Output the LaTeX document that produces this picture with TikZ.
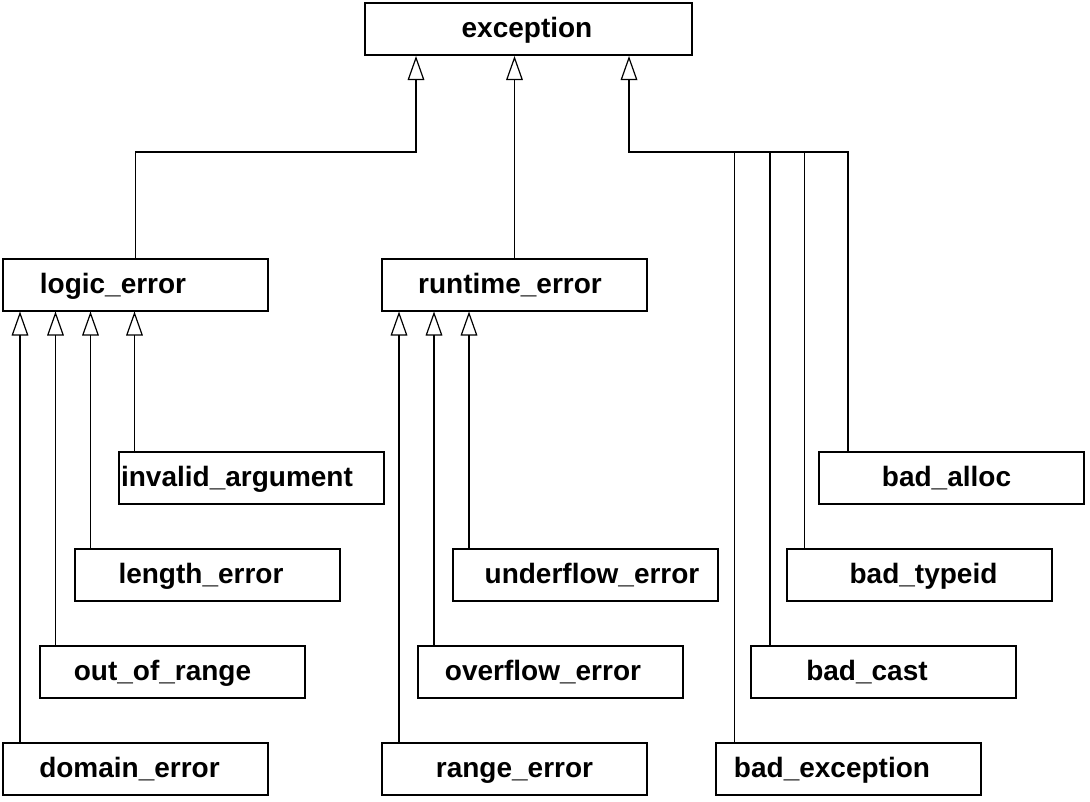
\documentclass[tikz,border=0pt]{standalone}
\usepackage{fontspec}
\setmainfont{Liberation Sans}
\usetikzlibrary{arrows.meta,calc}

\tikzset{
  cls/.style={draw, line width=1.5pt, minimum width=198.75pt, minimum height=39pt, inner sep=0pt},
  lbl/.style={inner sep=0.75pt, text height=15pt, text depth=2.5pt, font=\fontsize{21}{25}\selectfont\bfseries},
  inh/.style={line width=0.9pt, -{Triangle[open, length=18pt, width=12.5pt, line width=0.9pt]}},
  bus/.style={line width=0.9pt}
}

\begin{document}
\begin{tikzpicture}[x=0.75pt,y=0.75pt,yscale=-1,xscale=1]
\useasboundingbox (0,0) rectangle (1090,801);

% Classes
\node [cls, minimum width=245.25pt] (exc) at (528.5,29) {};
\node [cls] (logic) at (135.5,284.5) {};
\node [cls] (runtime) at (514.5,284.5) {};
\node [cls] (invarg) at (251,478) {};
\node [cls] (length) at (207,574.5) {};
\node [cls] (oor) at (172,671.5) {};
\node [cls] (domain) at (135.5,768.5) {};
\node [cls] (underflow) at (585.5,574.5) {};
\node [cls] (overflow) at (550.5,671.5) {};
\node [cls] (range) at (514.5,768.5) {};
\node [cls] (badalloc) at (951.5,478) {};
\node [cls] (badtypeid) at (919,574.5) {};
\node [cls] (badcast) at (883.5,671.5) {};
\node [cls] (badexc) at (848,768.5) {};

% Text Node
\node [lbl] (exc-t) at (527,29) {exception};
\node [lbl] (logic-t) at (113,285) {logic\_error};
\node [lbl] (runtime-t) at (510,285) {runtime\_error};
\node [lbl] (invarg-t) at (237,478) {invalid\_argument};
\node [lbl] (length-t) at (201,575) {length\_error};
\node [lbl] (oor-t) at (162.5,672) {out\_of\_range};
\node [lbl] (domain-t) at (129.5,769) {domain\_error};
\node [lbl] (underflow-t) at (592,575) {underflow\_error};
\node [lbl] (overflow-t) at (543,672) {overflow\_error};
\node [lbl] (range-t) at (514.5,769) {range\_error};
\node [lbl] (badalloc-t) at (946.5,478) {bad\_alloc};
\node [lbl] (badtypeid-t) at (923.5,575) {bad\_typeid};
\node [lbl] (badcast-t) at (867,672) {bad\_cast};
\node [lbl] (badexc-t) at (832,769) {bad\_exception};

% Inheritance from exception
\coordinate (bus) at (0,152);
\coordinate (e1) at ($(exc.south west)+(52,0)$);
\coordinate (e3) at ($(exc.south west)+(265,0)$);
\draw [inh] (logic.north) |- (e1 |- bus) -- (e1);
\draw [inh] (runtime.north) -- (runtime.north |- exc.south);
\draw [inh] ($(badalloc.north west)+(30,0)$) coordinate (p1) |- (e3 |- bus) -- (e3);
\draw [bus] ($(badtypeid.north west)+(19,0)$) coordinate (p2) -- (p2 |- bus);
\draw [bus] ($(badcast.north west)+(20,0)$) coordinate (p3) -- (p3 |- bus);
\draw [bus] ($(badexc.north west)+(20,0)$) coordinate (p4) -- (p4 |- bus);

% Inheritance from logic_error
\draw [inh] ($(invarg.north west)+(17,0)$) coordinate (q1) -- (q1 |- logic.south);
\draw [inh] ($(length.north west)+(17,0)$) coordinate (q2) -- (q2 |- logic.south);
\draw [inh] ($(oor.north west)+(17,0)$) coordinate (q3) -- (q3 |- logic.south);
\draw [inh] ($(domain.north west)+(18,0)$) coordinate (q4) -- (q4 |- logic.south);

% Inheritance from runtime_error
\draw [inh] ($(underflow.north west)+(17,0)$) coordinate (r1) -- (r1 |- runtime.south);
\draw [inh] ($(overflow.north west)+(17,0)$) coordinate (r2) -- (r2 |- runtime.south);
\draw [inh] ($(range.north west)+(18,0)$) coordinate (r3) -- (r3 |- runtime.south);

\end{tikzpicture}
\end{document}
